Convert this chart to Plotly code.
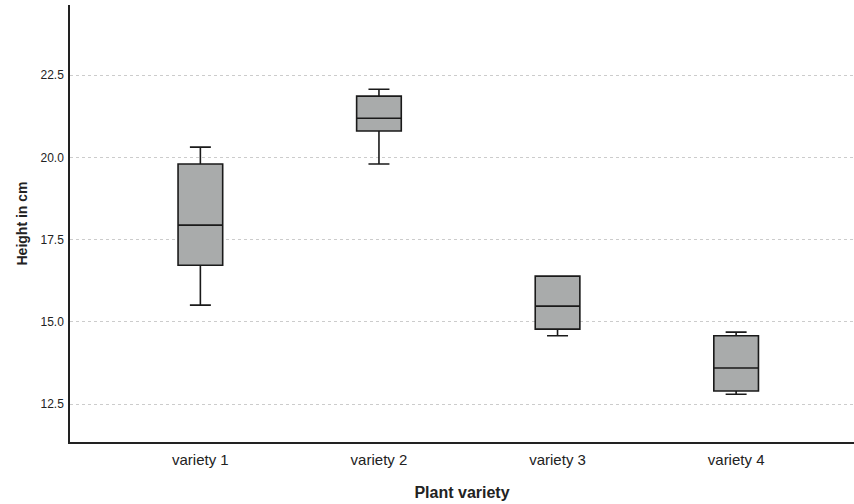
import plotly.graph_objects as go

categories = ["variety 1", "variety 2", "variety 3", "variety 4"]
q1 = [16.72, 20.80, 14.78, 12.90]
median = [17.94, 21.19, 15.48, 13.60]
q3 = [19.80, 21.86, 16.39, 14.58]
lower = [15.51, 19.80, 14.58, 12.80]
upper = [20.31, 22.07, 16.39, 14.69]
y_ticks = [12.5, 15.0, 17.5, 20.0, 22.5]

fig = go.Figure()
fig.add_trace(go.Box(
    x=categories, q1=q1, median=median, q3=q3,
    lowerfence=lower, upperfence=upper,
    fillcolor="#a9abab", line=dict(color="#1a1a1a", width=1.6),
    width=0.25, whiskerwidth=0.47, boxpoints=False, showlegend=False,
    hoverinfo="skip",
))

fig.update_layout(
    width=854, height=504,
    margin=dict(l=70, r=0, t=5, b=62),
    paper_bgcolor="white", plot_bgcolor="white",
    font=dict(family="Arial, Liberation Sans, sans-serif", color="#1a1a1a"),
)
fig.update_xaxes(
    type="category", range=[-0.73, 3.66], automargin=False,
    showline=True, linecolor="#222", linewidth=1.5,
    showgrid=False, ticks="", ticklabelstandoff=3,
    tickfont=dict(size=15, color="#222"),
    title=dict(text="<b>Plant variety</b>", font=dict(size=16, color="#222"), standoff=20),
)
fig.update_yaxes(
    range=[11.35, 24.63], tickvals=y_ticks, automargin=False,
    ticktext=[f"{v:.1f}" for v in y_ticks],
    showline=True, linecolor="#222", linewidth=1.5,
    showgrid=True, gridcolor="#cccccc", griddash="dot", gridwidth=1,
    zeroline=False, ticks="", ticklabelstandoff=2,
    tickfont=dict(size=12, color="#222"),
    title=dict(text="<b>Height in cm</b>", font=dict(size=14, color="#222"), standoff=10),
)

fig.write_html("out.html", config={"displayModeBar": False},
               post_script="document.body.style.margin='0';")
